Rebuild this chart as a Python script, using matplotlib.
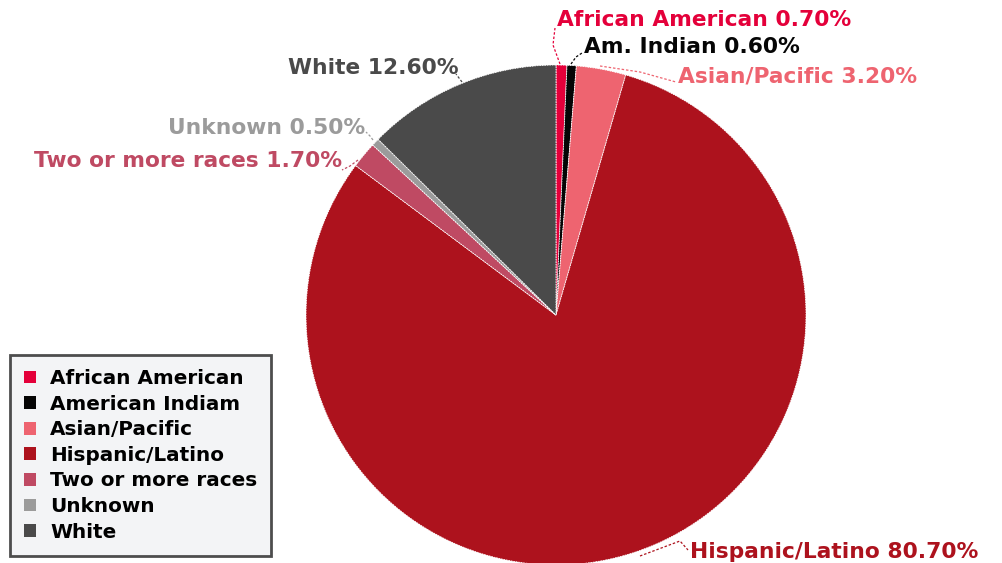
import matplotlib.pyplot as plt

groups = ["African American", "American Indiam", "Asian/Pacific", "Hispanic/Latino",
          "Two or more races", "Unknown", "White"]
shares = [0.70, 0.60, 3.20, 80.70, 1.70, 0.50, 12.60]
slice_labels = ["African American", "Am. Indian", "Asian/Pacific", "Hispanic/Latino",
                "Two or more races", "Unknown", "White"]
colors = ["#e4003a", "#050505", "#ee6470", "#ad121d", "#bf4a63", "#9b9b9b", "#4a4a4a"]

W, H = 1002, 563
fig = plt.figure(figsize=(W / 100, H / 100), dpi=100)
ax = fig.add_axes([0, 0, 1, 1])

cx, cy, r = 556, H - 315, 250
wedges, _ = ax.pie(shares, colors=colors, startangle=90, counterclock=False,
                   center=(cx, cy), radius=r, frame=True,
                   wedgeprops=dict(edgecolor="white", linewidth=0.6, linestyle=(0, (2, 1))))
ax.set_xlim(0, W)
ax.set_ylim(0, H)
ax.set_aspect("equal")
ax.axis("off")

# label text anchor (left, vertical centre) and leader line path, in pixels from top
label_pos = [
    (557, 20, [(560, 64), (553, 45), (555, 28)]),
    (584, 47, [(571, 64), (576, 57), (582, 53)]),
    (678, 77, [(600, 66), (640, 72), (676, 82)]),
    (690, 552, [(640, 556), (680, 541), (688, 550)]),
    (34, 161, [(358, 160), (350, 166), (342, 170)]),
    (168, 128, [(373, 140), (370, 136), (366, 132)]),
    (288, 68, [(462, 82), (459, 78), (456, 74)]),
]

for name, val, col, (tx, ty, path) in zip(slice_labels, shares, colors, label_pos):
    xs = [p[0] for p in path]
    ys = [H - p[1] for p in path]
    ax.plot(xs, ys, color=col, lw=0.9, ls=(0, (2, 1.5)))
    ax.text(tx, H - ty, f"{name} {val:.2f}%", color=col, fontsize=15.7,
            fontfamily="DejaVu Sans", fontweight="bold", ha="left", va="center")

leg = ax.legend(wedges, groups, loc="upper left", bbox_to_anchor=(10 / W, 1 - 355 / H),
                bbox_transform=fig.transFigure, frameon=True, fancybox=False,
                prop=dict(family="DejaVu Sans", weight="bold", size=14.4),
                handlelength=0.6, handleheight=0.6, handletextpad=0.7,
                labelspacing=0.33, borderpad=0.7, borderaxespad=0)
frame = leg.get_frame()
frame.set_facecolor("#f1f2f4")
frame.set_edgecolor("#222222")
frame.set_linewidth(2)
for h in leg.legend_handles:
    h.set_linestyle("-")
    h.set_linewidth(0)

fig.savefig("out.png", dpi=100)
